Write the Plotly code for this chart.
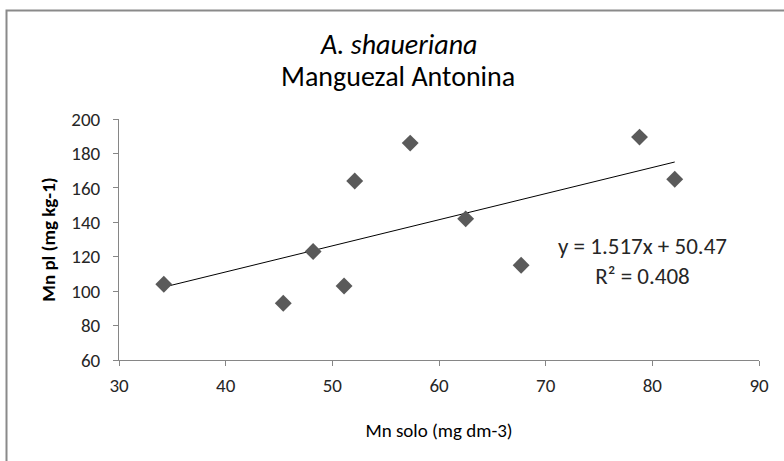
import plotly.graph_objects as go

mn_solo = [34.2, 45.4, 48.2, 51.1, 52.1, 57.3, 62.5, 67.7, 78.8, 82.1]
mn_pl = [104, 93, 123, 103, 164, 186, 142, 115, 189.5, 165]
slope = 1.517
intercept = 50.47
r2 = 0.408
x_ticks = [30, 40, 50, 60, 70, 80, 90]
y_ticks = [60, 80, 100, 120, 140, 160, 180, 200]
title_lines = ["<i>A. shaueriana</i>", "Manguezal Antonina"]

FONT = "Carlito, Lato, sans-serif"
trend_x = [min(mn_solo), max(mn_solo)]
trend_y = [slope * v + intercept for v in trend_x]

# plot area in pixels: x 119..759, y 119..360
def px_x(p):
    return (p - 119) / 640

def px_y(p):
    return (360 - p) / 241

fig = go.Figure()
fig.add_trace(go.Scatter(x=trend_x, y=trend_y, mode="lines",
                         line=dict(color="black", width=1), showlegend=False))
fig.add_trace(go.Scatter(x=mn_solo, y=mn_pl, mode="markers",
                         marker=dict(symbol="diamond", size=13, color="#5a5a5a"),
                         showlegend=False))

fig.add_annotation(x=79.1, y=117.5, xref="x", yref="y",
                   text=f"y = {slope}x + {intercept}<br>R² = {r2}",
                   showarrow=False, align="center",
                   font=dict(family=FONT, size=23, color="#262626"))

for txt, yp in zip(title_lines, [44, 77]):
    fig.add_annotation(x=px_x(398), y=px_y(yp), xref="paper", yref="paper",
                       text=txt, showarrow=False, xanchor="center", yanchor="middle",
                       font=dict(family=FONT, size=28, color="black"))

fig.update_layout(
    width=784, height=461,
    margin=dict(l=119, r=25, t=119, b=101),
    paper_bgcolor="white", plot_bgcolor="white",
    xaxis=dict(range=[30, 90], tickvals=x_ticks, showgrid=False, zeroline=False,
               showline=True, linecolor="#868686", linewidth=1,
               ticks="outside", ticklen=5, tickcolor="#868686",
               ticklabelstandoff=3,
               tickfont=dict(family=FONT, size=19, color="#262626"),
               title=dict(text="Mn solo (mg dm-3)", standoff=27,
                          font=dict(family=FONT, size=19, color="black"))),
    yaxis=dict(range=[60, 200], tickvals=y_ticks, showgrid=False, zeroline=False,
               showline=True, linecolor="#868686", linewidth=1,
               ticks="outside", ticklen=5, tickcolor="#868686",
               ticklabelstandoff=9,
               tickfont=dict(family=FONT, size=19, color="#262626"),
               title=dict(text="<b>Mn pl (mg kg-1)</b>", standoff=10,
                          font=dict(family=FONT, size=19, color="black"))),
)

fig.add_shape(type="rect", xref="paper", yref="paper",
              x0=px_x(6.5), x1=2, y0=-1, y1=px_y(10.5),
              line=dict(color="#8a8a8a", width=2), fillcolor="rgba(0,0,0,0)",
              layer="below")

fig.write_html("out.html")
